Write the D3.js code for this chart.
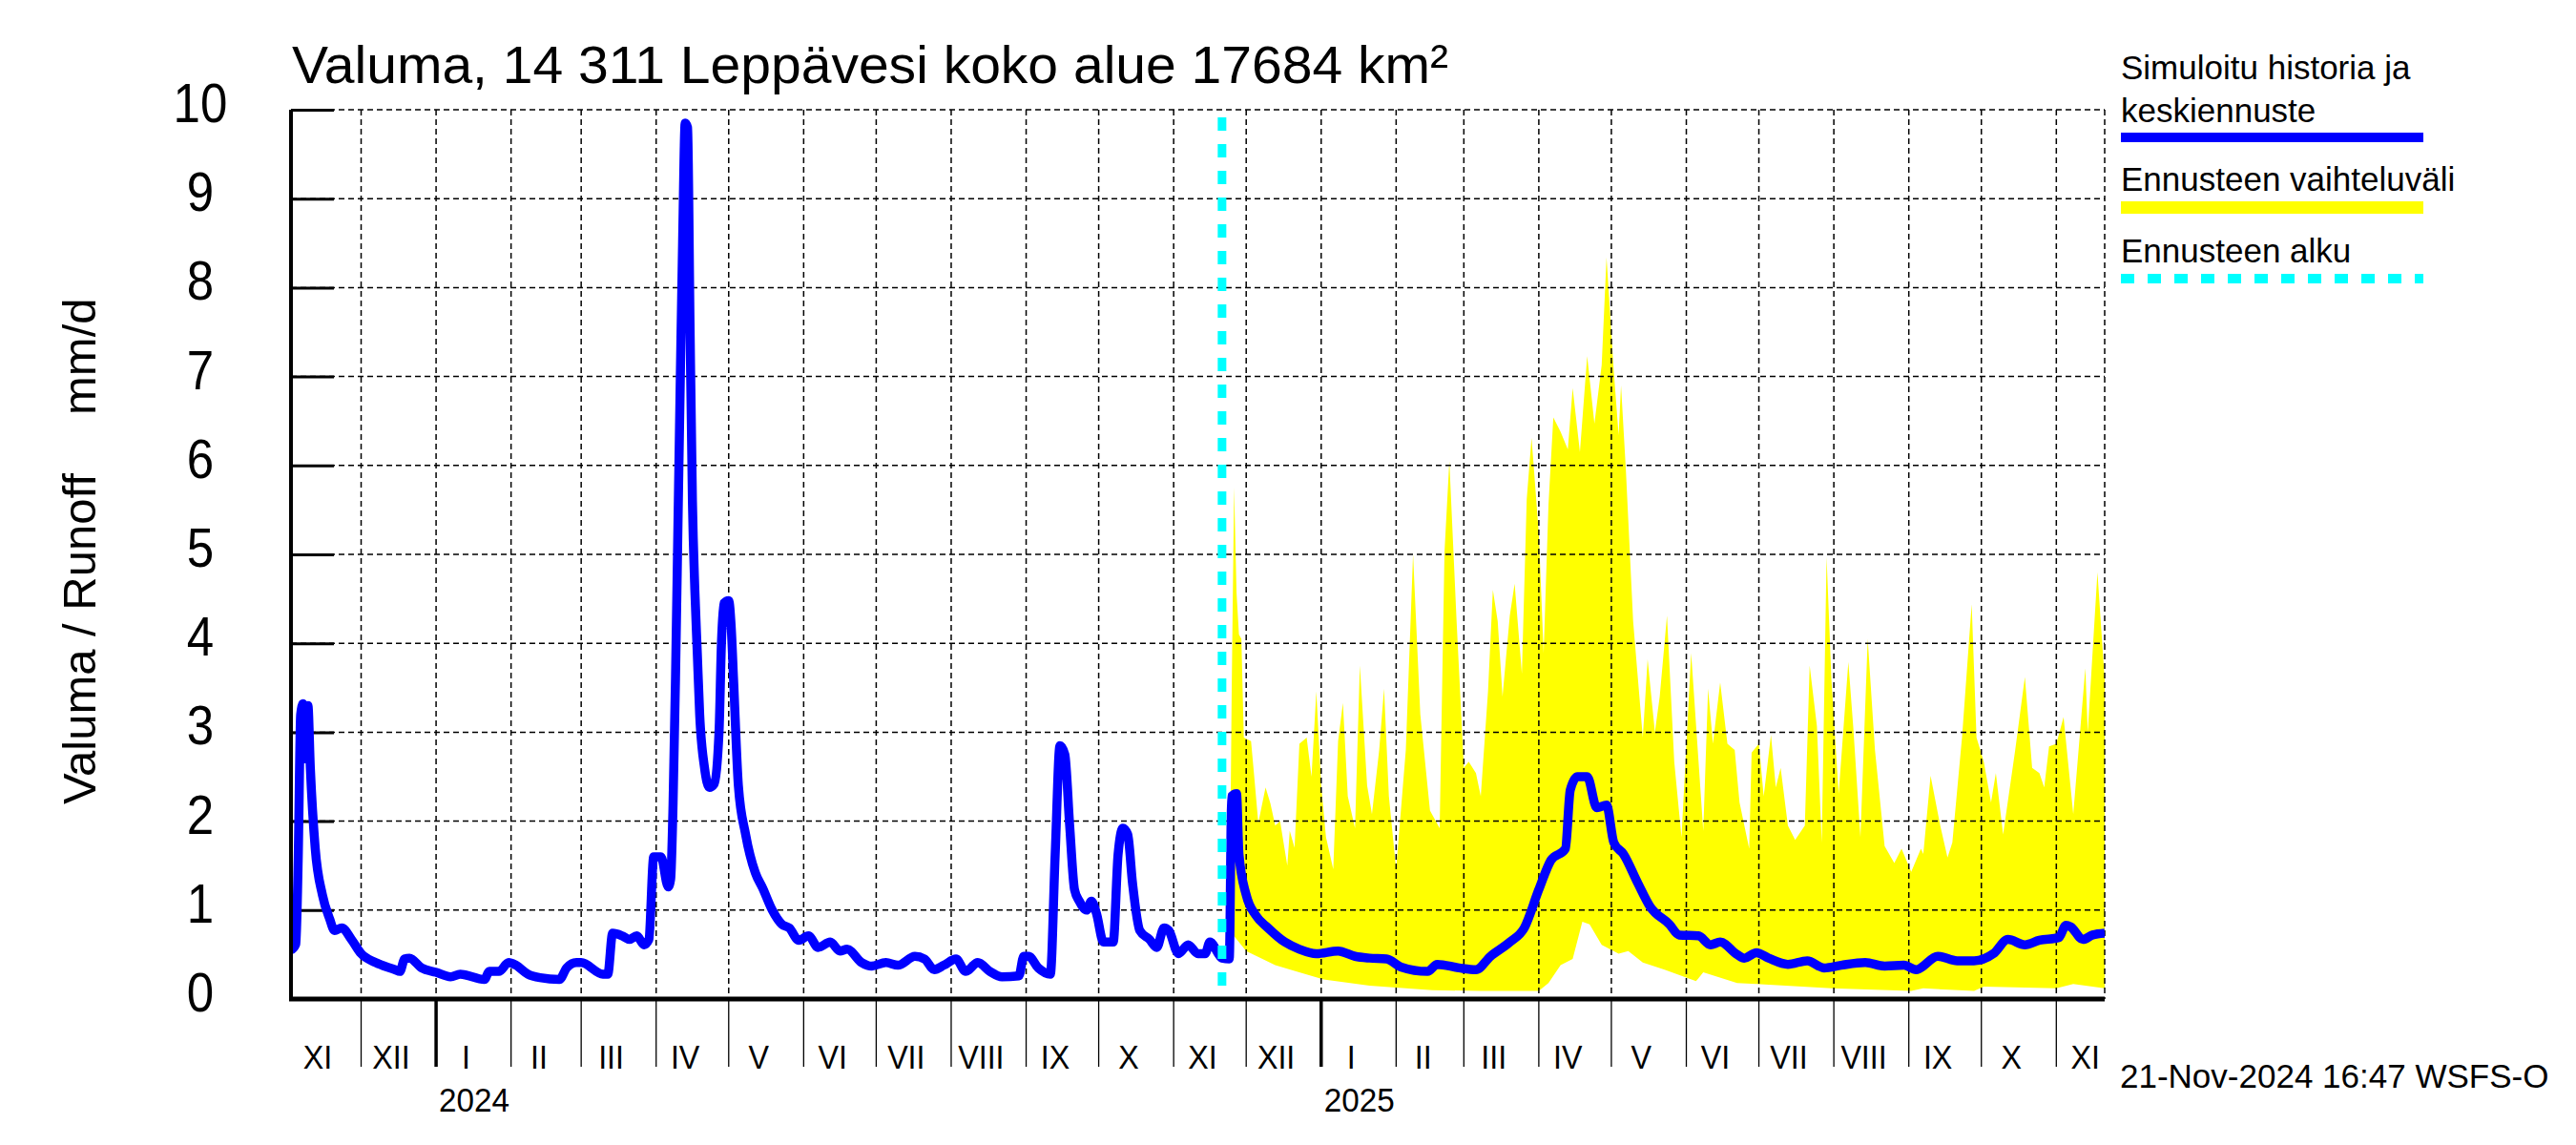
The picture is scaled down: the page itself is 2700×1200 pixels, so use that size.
<!DOCTYPE html>
<html>
<head>
<meta charset="utf-8">
<script src="https://cdn.jsdelivr.net/npm/d3@7"></script>
<style>
  body { margin: 0; background: #fff; }
  text { font-family: "Liberation Sans", Arial, Helvetica, sans-serif; fill: #000; }
</style>
</head>
<body>
<svg id="chart" width="2700" height="1200"></svg>
<script>
// simuloitu historia (mm/d)
const history = [
  ["2023-11-02",0.55],["2023-11-04",0.62],["2023-11-05",1.6],["2023-11-06",3.2],["2023-11-07",3.32],
  ["2023-11-08",2.7],["2023-11-09",3.3],["2023-11-10",2.6],["2023-11-12",1.7],["2023-11-15",1.17],
  ["2023-11-18",0.9],["2023-11-20",0.77],["2023-11-23",0.8],["2023-11-27",0.67],["2023-12-01",0.51],
  ["2023-12-07",0.41],["2023-12-15",0.33],["2023-12-17",0.31],["2023-12-19",0.45],["2023-12-21",0.46],
  ["2023-12-26",0.35],["2024-01-01",0.3],["2024-01-07",0.25],["2024-01-11",0.28],["2024-01-21",0.22],
  ["2024-01-23",0.31],["2024-01-27",0.31],["2024-01-31",0.41],["2024-02-03",0.38],["2024-02-08",0.28],
  ["2024-02-13",0.24],["2024-02-21",0.22],["2024-02-24",0.35],["2024-02-28",0.41],["2024-03-01",0.41],
  ["2024-03-10",0.28],["2024-03-12",0.28],["2024-03-14",0.74],["2024-03-18",0.71],["2024-03-21",0.67],
  ["2024-03-24",0.71],["2024-03-27",0.61],["2024-03-29",0.67],["2024-03-31",1.6],["2024-04-03",1.6],
  ["2024-04-06",1.26],["2024-04-07",1.35],["2024-04-08",2.2],["2024-04-09",3.6],["2024-04-10",5.3],
  ["2024-04-11",7.0],["2024-04-12",8.6],["2024-04-13",9.85],["2024-04-14",9.8],["2024-04-15",7.6],
  ["2024-04-16",5.6],["2024-04-17",4.6],["2024-04-18",3.9],["2024-04-19",3.2],["2024-04-21",2.6],
  ["2024-04-23",2.38],["2024-04-25",2.42],["2024-04-27",3.0],["2024-04-28",4.0],["2024-04-29",4.45],
  ["2024-05-01",4.48],["2024-05-02",4.2],["2024-05-03",3.6],["2024-05-05",2.4],["2024-05-08",1.85],
  ["2024-05-12",1.42],["2024-05-15",1.25],["2024-05-19",1.0],["2024-05-23",0.84],["2024-05-26",0.8],
  ["2024-05-30",0.66],["2024-06-03",0.71],["2024-06-07",0.58],["2024-06-12",0.64],["2024-06-16",0.54],
  ["2024-06-19",0.56],["2024-06-25",0.41],["2024-06-29",0.37],["2024-07-05",0.41],["2024-07-10",0.38],
  ["2024-07-17",0.48],["2024-07-21",0.45],["2024-07-25",0.33],["2024-07-29",0.38],["2024-08-03",0.45],
  ["2024-08-07",0.31],["2024-08-12",0.41],["2024-08-17",0.31],["2024-08-22",0.25],["2024-08-29",0.26],
  ["2024-08-31",0.48],["2024-09-02",0.48],["2024-09-06",0.35],["2024-09-11",0.28],["2024-09-13",1.62],
  ["2024-09-15",2.85],["2024-09-17",2.75],["2024-09-19",1.95],["2024-09-21",1.23],["2024-09-23",1.1],
  ["2024-09-26",1.0],["2024-09-28",1.1],["2024-09-30",0.97],["2024-10-03",0.64],["2024-10-07",0.64],
  ["2024-10-09",1.62],["2024-10-11",1.92],["2024-10-13",1.85],["2024-10-15",1.3],["2024-10-18",0.77],
  ["2024-10-22",0.67],["2024-10-25",0.58],["2024-10-28",0.8],["2024-10-30",0.77],["2024-11-03",0.51],
  ["2024-11-07",0.61],["2024-11-11",0.51],["2024-11-14",0.51],["2024-11-16",0.64],["2024-11-21",0.46]
];

// keskiennuste
const forecast = [
  ["2024-11-21",0.46],["2024-11-24",0.45],["2024-11-25",2.28],["2024-11-27",2.31],["2024-11-28",1.63],
  ["2024-12-01",1.17],["2024-12-05",0.94],["2024-12-10",0.8],["2024-12-17",0.64],["2024-12-23",0.56],
  ["2024-12-30",0.51],["2025-01-08",0.54],["2025-01-15",0.48],["2025-01-21",0.46],["2025-01-28",0.45],
  ["2025-02-03",0.36],["2025-02-14",0.31],["2025-02-18",0.39],["2025-02-27",0.35],["2025-03-06",0.33],
  ["2025-03-12",0.48],["2025-03-20",0.64],["2025-03-26",0.8],["2025-04-01",1.23],["2025-04-06",1.56],
  ["2025-04-12",1.69],["2025-04-14",2.35],["2025-04-17",2.5],["2025-04-21",2.5],["2025-04-25",2.15],
  ["2025-04-29",2.18],["2025-05-02",1.76],["2025-05-06",1.63],["2025-05-12",1.3],["2025-05-17",1.04],
  ["2025-05-25",0.84],["2025-05-29",0.72],["2025-06-06",0.71],["2025-06-11",0.61],["2025-06-15",0.64],
  ["2025-06-22",0.5],["2025-06-25",0.46],["2025-06-30",0.52],["2025-07-05",0.46],["2025-07-13",0.39],
  ["2025-07-21",0.43],["2025-07-28",0.35],["2025-08-04",0.38],["2025-08-14",0.41],["2025-08-22",0.37],
  ["2025-08-30",0.38],["2025-09-04",0.33],["2025-09-13",0.48],["2025-09-21",0.43],["2025-09-28",0.43],
  ["2025-10-06",0.51],["2025-10-12",0.67],["2025-10-19",0.61],["2025-10-25",0.66],["2025-11-02",0.69],
  ["2025-11-05",0.83],["2025-11-07",0.81],["2025-11-12",0.67],["2025-11-16",0.72],["2025-11-21",0.74]
];

// ennusteen vaihteluväli, yläraja
const bandMax = [
  ["2024-11-24",0.5],["2024-11-25",3.46],["2024-11-26",5.75],["2024-11-27",4.57],["2024-11-28",4.1],
  ["2024-11-29",4.05],["2024-11-30",2.94],["2024-12-03",2.9],["2024-12-04",2.6],["2024-12-06",1.98],
  ["2024-12-09",2.38],["2024-12-11",2.2],["2024-12-13",1.95],["2024-12-15",2.0],["2024-12-18",1.5],
  ["2024-12-19",1.89],["2024-12-21",1.7],["2024-12-23",2.87],["2024-12-26",2.94],["2024-12-28",2.5],
  ["2024-12-30",3.46],["2025-01-01",2.4],["2025-01-03",1.82],["2025-01-06",1.46],["2025-01-08",2.9],
  ["2025-01-10",3.33],["2025-01-12",2.28],["2025-01-15",1.92],["2025-01-17",3.75],["2025-01-20",2.4],
  ["2025-01-22",2.08],["2025-01-25",2.8],["2025-01-27",3.49],["2025-01-29",2.28],["2025-02-01",1.46],
  ["2025-02-05",2.8],["2025-02-08",5.0],["2025-02-11",3.2],["2025-02-15",2.12],["2025-02-19",1.92],
  ["2025-02-21",5.03],["2025-02-23",6.05],["2025-02-26",4.25],["2025-03-01",2.6],["2025-03-03",2.67],
  ["2025-03-06",2.54],["2025-03-08",2.28],["2025-03-11",3.46],["2025-03-13",4.6],["2025-03-15",4.25],
  ["2025-03-17",3.4],["2025-03-20",4.31],["2025-03-22",4.67],["2025-03-25",3.66],["2025-03-27",5.62],
  ["2025-03-29",6.31],["2025-04-01",5.23],["2025-04-03",3.89],["2025-04-05",5.56],["2025-04-07",6.54],
  ["2025-04-10",6.38],["2025-04-13",6.18],["2025-04-15",6.87],["2025-04-18",6.15],["2025-04-21",7.23],
  ["2025-04-24",6.47],["2025-04-27",7.13],["2025-04-29",8.34],["2025-05-02",7.06],["2025-05-04",6.34],
  ["2025-05-05",6.9],["2025-05-07",5.95],["2025-05-10",4.25],["2025-05-14",2.94],["2025-05-16",3.82],
  ["2025-05-19",3.0],["2025-05-21",3.4],["2025-05-24",4.31],["2025-05-27",2.67],["2025-05-30",1.82],
  ["2025-06-03",3.89],["2025-06-08",1.89],["2025-06-10",3.49],["2025-06-12",2.87],["2025-06-15",3.56],
  ["2025-06-18",2.87],["2025-06-21",2.8],["2025-06-23",2.21],["2025-06-27",1.69],["2025-06-28",2.77],
  ["2025-07-01",2.87],["2025-07-03",2.28],["2025-07-06",2.97],["2025-07-08",2.38],["2025-07-10",2.6],
  ["2025-07-13",1.95],["2025-07-16",1.79],["2025-07-20",1.95],["2025-07-22",3.75],["2025-07-25",3.07],
  ["2025-07-27",1.76],["2025-07-29",4.97],["2025-07-31",3.59],["2025-08-03",2.31],["2025-08-07",3.79],
  ["2025-08-09",3.07],["2025-08-12",1.82],["2025-08-15",4.05],["2025-08-18",2.8],["2025-08-22",1.72],
  ["2025-08-26",1.53],["2025-08-29",1.69],["2025-09-02",1.43],["2025-09-06",1.69],["2025-09-07",1.63],
  ["2025-09-10",2.51],["2025-09-14",1.95],["2025-09-17",1.59],["2025-09-19",1.76],["2025-09-23",2.94],
  ["2025-09-27",4.44],["2025-09-29",2.94],["2025-10-02",2.67],["2025-10-05",2.21],["2025-10-07",2.54],
  ["2025-10-10",1.85],["2025-10-15",2.8],["2025-10-19",3.62],["2025-10-22",2.6],["2025-10-25",2.54],
  ["2025-10-27",2.38],["2025-10-29",2.84],["2025-11-01",2.87],["2025-11-04",3.17],["2025-11-08",2.08],
  ["2025-11-13",3.72],["2025-11-14",3.0],["2025-11-18",4.8],["2025-11-21",3.59]
];

// ennusteen vaihteluväli, alaraja
const bandMin = [
  ["2024-11-24",0.5],["2024-11-25",0.74],["2024-12-01",0.54],["2024-12-13",0.38],["2025-01-02",0.22],
  ["2025-01-21",0.15],["2025-02-16",0.1],["2025-03-08",0.09],["2025-04-01",0.09],["2025-04-05",0.18],
  ["2025-04-10",0.38],["2025-04-15",0.45],["2025-04-19",0.87],["2025-04-22",0.84],["2025-04-27",0.61],
  ["2025-05-04",0.51],["2025-05-08",0.54],["2025-05-14",0.41],["2025-05-23",0.33],["2025-06-05",0.2],
  ["2025-06-08",0.3],["2025-06-22",0.18],["2025-06-30",0.17],["2025-07-31",0.12],["2025-09-02",0.09],
  ["2025-09-07",0.12],["2025-09-28",0.09],["2025-10-02",0.14],["2025-11-01",0.12],["2025-11-08",0.17],
  ["2025-11-21",0.12]
];

const yTicks = [0, 1, 2, 3, 4, 5, 6, 7, 8, 9, 10];
const monthNames = ["I","II","III","IV","V","VI","VII","VIII","IX","X","XI","XII"];
const forecastStart = "2024-11-21";
const startDate = "2023-11-02";
const endDate = "2025-11-21";

const svg = d3.select("#chart");
const parse = d3.utcParse("%Y-%m-%d");

const pLeft = 305, pRight = 2206, pTop = 115, pBottom = 1047;
const x = d3.scaleUtc().domain([parse(startDate), parse(endDate)]).range([pLeft, pRight]);
const y = d3.scaleLinear().domain([0, 10]).range([pBottom, pTop]);

// kapeampi fontti: puristetaan tekstiä vaakasuunnassa
function narrow(sel, f) {
  sel.each(function () {
    const w = this.getComputedTextLength();
    d3.select(this).attr("textLength", w * f).attr("lengthAdjust", "spacingAndGlyphs");
  });
}

svg.append("defs").append("clipPath").attr("id", "plot")
  .append("rect").attr("x", pLeft).attr("y", pTop - 10)
  .attr("width", pRight - pLeft).attr("height", pBottom - pTop + 10);

// vaihteluväli
const pt = d => [x(parse(d[0])), y(d[1])];
const bandPts = bandMax.map(pt).concat(bandMin.slice().reverse().map(pt));
svg.append("path")
  .attr("clip-path", "url(#plot)")
  .attr("d", d3.line()(bandPts) + "Z")
  .attr("fill", "#ffff00");

// ruudukko
const grid = svg.append("g").attr("stroke", "#000").attr("stroke-width", 1.5)
  .attr("stroke-dasharray", "6,4").attr("fill", "none");
grid.selectAll("line.h").data(yTicks.slice(1)).join("line")
  .attr("class", "h")
  .attr("x1", pLeft).attr("x2", pRight)
  .attr("y1", d => y(d)).attr("y2", d => y(d));

const monthStarts = d3.utcMonth.range(d3.utcMonth.ceil(x.domain()[0]), x.domain()[1]);
grid.selectAll("line.v").data(monthStarts.concat([x.domain()[1]])).join("line")
  .attr("class", "v")
  .attr("x1", d => x(d)).attr("x2", d => x(d))
  .attr("y1", pTop).attr("y2", pBottom);

// y-akselin tikit
svg.append("g")
  .attr("transform", `translate(${pLeft},0)`)
  .call(d3.axisLeft(y).tickValues(yTicks).tickSize(-45).tickFormat(""))
  .call(g => g.select(".domain").remove())
  .call(g => g.selectAll(".tick line").attr("stroke", "#000").attr("stroke-width", 3));

svg.append("g").selectAll("text").data(yTicks).join("text")
  .attr("x", 210).attr("y", d => y(d) + 13)
  .attr("text-anchor", "middle")
  .attr("font-size", 58)
  .text(d => d)
  .call(narrow, 0.88);

// viivat
const line = d3.line().x(d => x(parse(d[0]))).y(d => y(d[1])).curve(d3.curveMonotoneX);
svg.append("path")
  .datum(history.concat(forecast.slice(1)))
  .attr("clip-path", "url(#plot)")
  .attr("d", line)
  .attr("fill", "none")
  .attr("stroke", "#0000ff")
  .attr("stroke-width", 9.5)
  .attr("stroke-linejoin", "round");

// ennusteen alku
const xf = x(parse(forecastStart));
svg.append("line")
  .attr("x1", xf).attr("x2", xf).attr("y1", pTop + 8).attr("y2", pBottom)
  .attr("stroke", "#00ffff").attr("stroke-width", 9)
  .attr("stroke-dasharray", "14,14");

// akselit
svg.append("line").attr("x1", pLeft).attr("x2", pLeft).attr("y1", pTop).attr("y2", pBottom + 2)
  .attr("stroke", "#000").attr("stroke-width", 4);
svg.append("line").attr("x1", pLeft - 2).attr("x2", pRight).attr("y1", pBottom).attr("y2", pBottom)
  .attr("stroke", "#000").attr("stroke-width", 5);

// kuukausijaot akselin alla
svg.append("g").selectAll("line").data(monthStarts).join("line")
  .attr("x1", d => x(d)).attr("x2", d => x(d))
  .attr("y1", pBottom).attr("y2", 1118)
  .attr("stroke", "#000")
  .attr("stroke-width", d => d.getUTCMonth() === 0 ? 3.5 : 1.3);

const months = d3.utcMonth.range(d3.utcMonth.floor(x.domain()[0]), x.domain()[1]);
svg.append("g").selectAll("text").data(months).join("text")
  .attr("x", d => x(d) + 0.4 * (x(d3.utcMonth.offset(d, 1)) - x(d)))
  .attr("y", 1120)
  .attr("text-anchor", "middle")
  .attr("font-size", 35)
  .text(d => monthNames[d.getUTCMonth()])
  .call(narrow, 0.92);

const years = monthStarts.filter(d => d.getUTCMonth() === 0);
svg.append("g").selectAll("text").data(years).join("text")
  .attr("x", d => x(d) + 3)
  .attr("y", 1165)
  .attr("font-size", 35)
  .text(d => d.getUTCFullYear())
  .call(narrow, 0.95);

// otsikot
svg.append("text").attr("x", 306).attr("y", 87).attr("font-size", 56)
  .attr("textLength", 1212).attr("lengthAdjust", "spacingAndGlyphs")
  .text("Valuma, 14 311 Leppävesi koko alue 17684 km²");

svg.append("text").attr("transform", "translate(100,843) rotate(-90)")
  .attr("font-size", 49).text("Valuma / Runoff");
svg.append("text").attr("transform", "translate(100,435) rotate(-90)")
  .attr("font-size", 49).text("mm/d");

svg.append("text").attr("x", 2222).attr("y", 1140).attr("font-size", 35)
  .text("21-Nov-2024 16:47 WSFS-O");

// selite
const legend = svg.append("g").attr("font-size", 35);
legend.append("text").attr("x", 2223).attr("y", 83).text("Simuloitu historia ja");
legend.append("text").attr("x", 2223).attr("y", 128).text("keskiennuste");
legend.append("line").attr("x1", 2223).attr("x2", 2540).attr("y1", 144).attr("y2", 144)
  .attr("stroke", "#0000ff").attr("stroke-width", 10);
legend.append("text").attr("x", 2223).attr("y", 200).text("Ennusteen vaihteluväli");
legend.append("line").attr("x1", 2223).attr("x2", 2540).attr("y1", 217.5).attr("y2", 217.5)
  .attr("stroke", "#ffff00").attr("stroke-width", 13);
legend.append("text").attr("x", 2223).attr("y", 275).text("Ennusteen alku");
legend.append("line").attr("x1", 2223).attr("x2", 2540).attr("y1", 292).attr("y2", 292)
  .attr("stroke", "#00ffff").attr("stroke-width", 10).attr("stroke-dasharray", "14,14");
</script>
</body>
</html>
